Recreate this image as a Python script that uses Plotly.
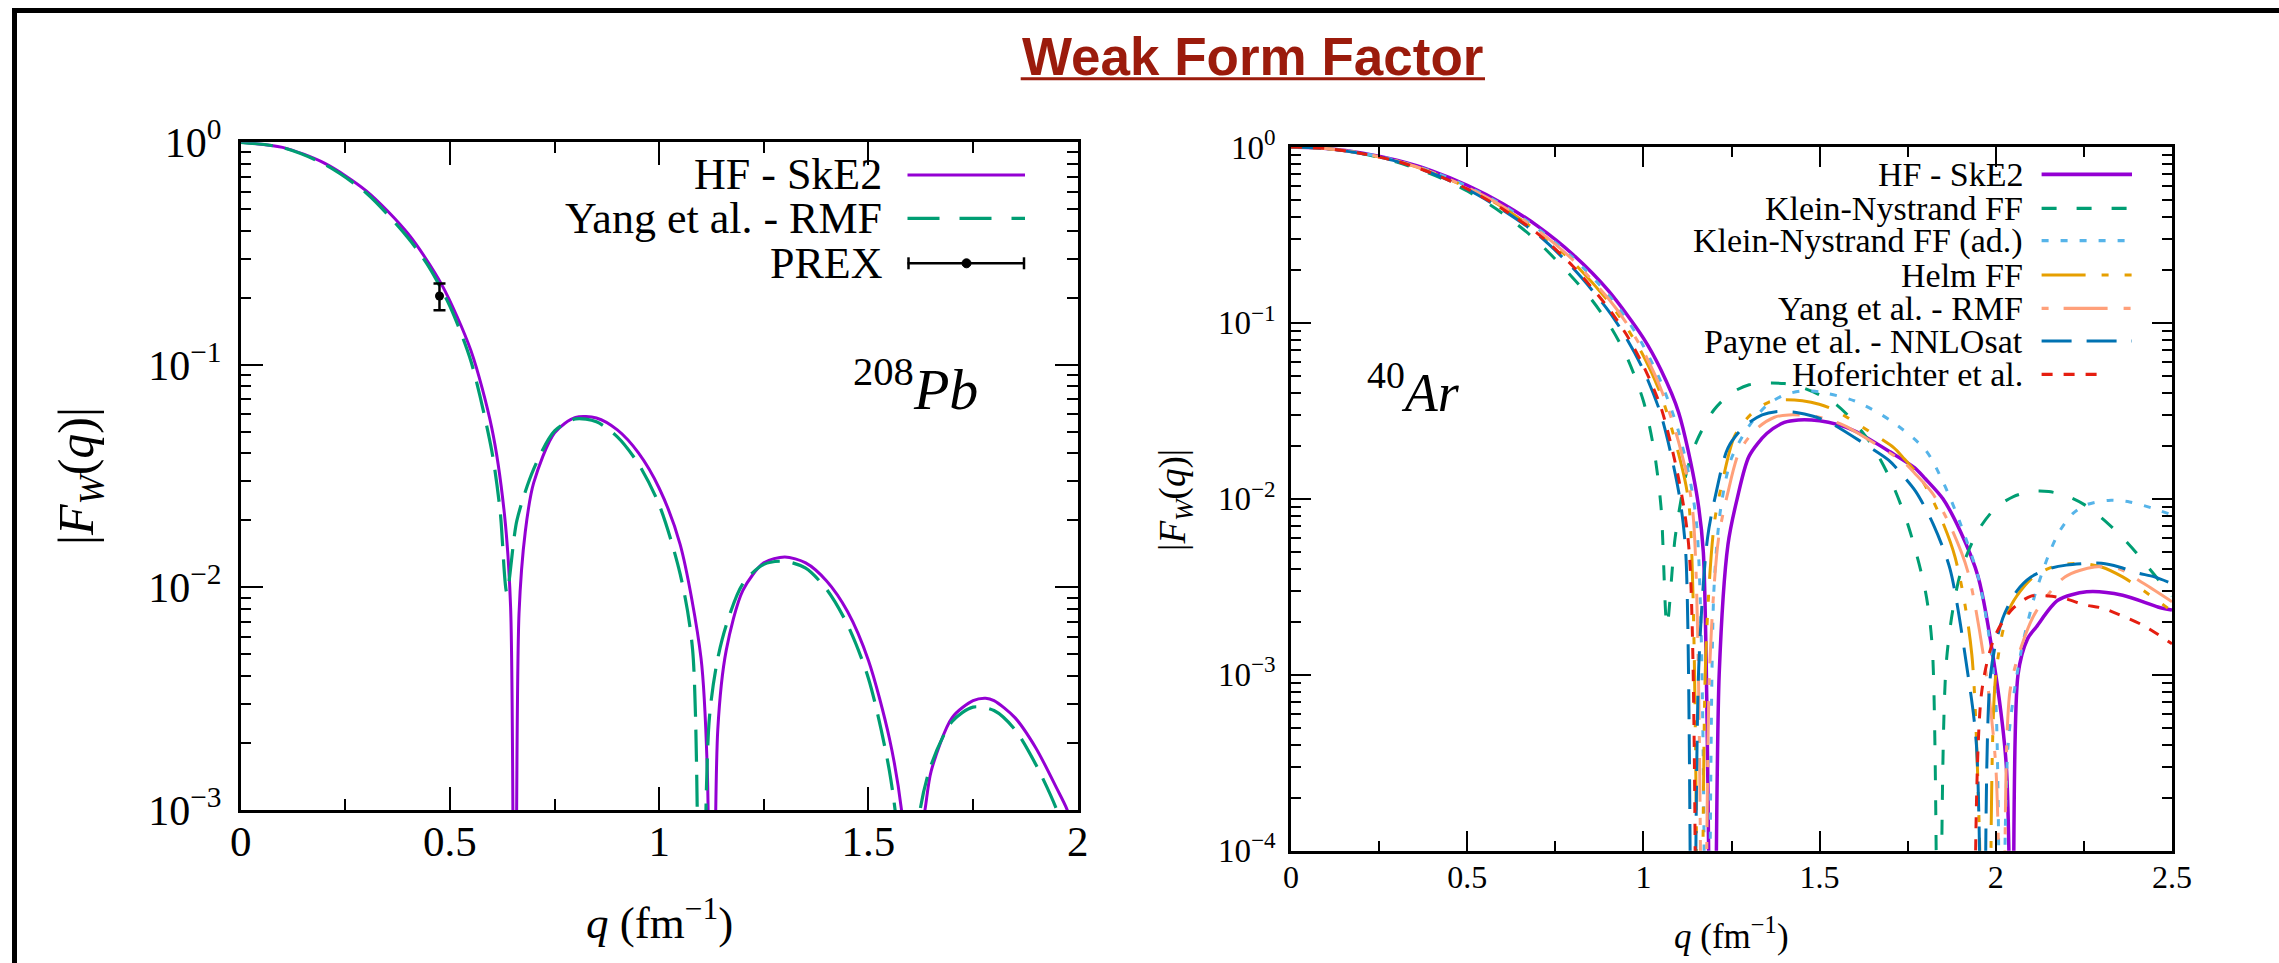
import plotly.graph_objects as go

W, H = 2279, 963
def PX(x): return x / W
def PY(y): return 1 - y / H

# ---------------- data: 208Pb (left panel) ----------------
pb_q_hf = [0, 0.1, 0.2, 0.3, 0.4, 0.48, 0.55, 0.6, 0.63, 0.645, 0.655, 0.665, 0.68, 0.7, 0.75, 0.8,
           0.85, 0.9, 0.95, 1.0, 1.05, 1.1, 1.115, 1.126, 1.14, 1.16, 1.2, 1.25, 1.3, 1.35, 1.4, 1.45,
           1.5, 1.55, 1.579, 1.595, 1.605, 1.62, 1.635, 1.65, 1.7, 1.75, 1.78, 1.8, 1.85, 1.9, 1.95,
           1.975, 2.0]
pb_f_hf = [1.0, 0.949, 0.806, 0.605, 0.388, 0.23, 0.116, 0.052, 0.0215, 0.0081, 1e-5, 0.0076, 0.0178,
           0.0295, 0.0495, 0.0581, 0.0577, 0.051, 0.0403, 0.0279, 0.0156, 0.0048, 0.0015, 1e-5, 0.0023,
           0.0052, 0.0097, 0.0129, 0.0137, 0.0129, 0.0107, 0.0078, 0.0047, 0.0021, 0.001, 0.0004, 1e-5,
           0.0007, 0.001, 0.0015, 0.0026, 0.0031, 0.00318, 0.0031, 0.0026, 0.0019, 0.00125, 0.001, 0.0007]

pb_q_rmf = [0, 0.1, 0.2, 0.3, 0.4, 0.45, 0.5, 0.55, 0.6, 0.62, 0.636, 0.66, 0.7, 0.75, 0.8, 0.85, 0.9,
            0.95, 1.0, 1.05, 1.08, 1.1, 1.12, 1.15, 1.2, 1.25, 1.3, 1.35, 1.4, 1.45, 1.5, 1.55, 1.575,
            1.59, 1.62, 1.65, 1.7, 1.75, 1.8, 1.85, 1.9, 1.95, 2.0]
pb_f_rmf = [1.0, 0.946, 0.797, 0.592, 0.372, 0.275, 0.183, 0.104, 0.041, 0.022, 0.0095, 0.02, 0.034,
            0.0505, 0.0572, 0.0555, 0.0475, 0.036, 0.0235, 0.0115, 0.0052, 1e-5, 0.0026, 0.0058, 0.0104,
            0.0127, 0.0131, 0.0122, 0.0098, 0.0068, 0.0039, 0.0015, 0.0006, 1e-5, 0.0009, 0.0016, 0.0025,
            0.0029, 0.0028, 0.0023, 0.0016, 0.001, 0.0005]

prex_q = [0.475]
prex_f = [0.204]
prex_err = [0.028]

# ---------------- data: 40Ar (right panel) ----------------
ar_q_hf = [0, 0.1, 0.2, 0.3, 0.4, 0.5, 0.6, 0.7, 0.8, 0.9, 1.0, 1.05, 1.1, 1.15, 1.17, 1.197, 1.215, 1.24,
           1.266, 1.3, 1.35, 1.4, 1.44, 1.5, 1.55, 1.6, 1.7, 1.77, 1.8, 1.85, 1.9, 1.95, 2.0, 2.03, 2.05,
           2.063, 2.09, 2.115, 2.176, 2.258, 2.36, 2.46, 2.5]
ar_f_hf = [1.0, 0.981, 0.926, 0.84, 0.732, 0.606, 0.478, 0.355, 0.245, 0.153, 0.082, 0.054, 0.031, 0.011,
           0.005, 1e-6, 0.001, 0.0055, 0.010, 0.0175, 0.0235, 0.0272, 0.0281, 0.0278, 0.0265, 0.0243,
           0.0185, 0.015, 0.013, 0.010, 0.0065, 0.0036, 0.001, 0.0003, 1e-6, 0.001, 0.0016, 0.00187,
           0.00265, 0.00296, 0.00283, 0.00243, 0.00233]

ar_q_kn = [0, 0.1, 0.2, 0.3, 0.4, 0.5, 0.6, 0.7, 0.8, 0.85, 0.9, 0.95, 1.0, 1.03, 1.05, 1.067, 1.09, 1.12,
           1.15, 1.2, 1.25, 1.3, 1.35, 1.4, 1.45, 1.5, 1.55, 1.6, 1.65, 1.7, 1.75, 1.8, 1.82, 1.84, 1.86,
           1.9, 1.95, 2.0, 2.05, 2.1, 2.15, 2.2, 2.25, 2.3, 2.35, 2.4, 2.45, 2.5]
ar_f_kn = [1.0, 0.979, 0.917, 0.82, 0.70, 0.562, 0.42, 0.29, 0.18, 0.138, 0.10, 0.066, 0.036, 0.019,
           0.009, 0.0019, 0.006, 0.0135, 0.021, 0.032, 0.040, 0.0445, 0.0455, 0.0452, 0.043, 0.039, 0.034,
           0.027, 0.020, 0.013, 0.0072, 0.003, 0.0014, 1e-6, 0.0012, 0.0038, 0.0066, 0.0089, 0.0103,
           0.011, 0.011, 0.0104, 0.0093, 0.0078, 0.0063, 0.0049, 0.0037, 0.0028]

ar_q_kn_ad = [0, 0.1, 0.2, 0.3, 0.4, 0.5, 0.6, 0.7, 0.8, 0.9, 0.95, 1.0, 1.05, 1.1, 1.15, 1.18, 1.2, 1.22,
              1.25, 1.3, 1.35, 1.4, 1.45, 1.5, 1.6, 1.7, 1.8, 1.85, 1.9, 1.95, 1.98, 2.0, 2.017, 2.035,
              2.07, 2.11, 2.15, 2.18, 2.22, 2.26, 2.32, 2.38, 2.44, 2.5]
ar_f_kn_ad = [1.0, 0.981, 0.924, 0.838, 0.727, 0.598, 0.468, 0.344, 0.235, 0.145, 0.107, 0.074, 0.046,
              0.024, 0.0075, 1e-6, 0.003, 0.009, 0.017, 0.026, 0.034, 0.039, 0.041, 0.0405, 0.036, 0.028,
              0.019, 0.0125, 0.0072, 0.0036, 0.0017, 0.0007, 1e-6, 0.0004, 0.0013, 0.0028, 0.0048,
              0.0065, 0.0083, 0.0093, 0.0098, 0.0096, 0.0089, 0.0081]

ar_q_helm = [0, 0.1, 0.2, 0.3, 0.4, 0.5, 0.6, 0.7, 0.8, 0.9, 0.95, 1.0, 1.05, 1.1, 1.13, 1.16, 1.177, 1.201,
             1.226, 1.259, 1.307, 1.355, 1.394, 1.451, 1.499, 1.547, 1.643, 1.711, 1.74, 1.788, 1.836,
             1.884, 1.932, 1.98, 2.0, 2.04, 2.1, 2.16, 2.24, 2.3, 2.36, 2.42, 2.5]
ar_f_helm = [1.0, 0.98, 0.92, 0.832, 0.717, 0.587, 0.455, 0.33, 0.222, 0.133, 0.096, 0.065, 0.039, 0.018,
             0.009, 1e-6, 0.0013, 0.0072, 0.013, 0.0228, 0.0305, 0.0354, 0.0365, 0.0361, 0.0345, 0.0316,
             0.024, 0.0195, 0.0169, 0.013, 0.0085, 0.0047, 0.0013, 1e-6, 0.001, 0.0024, 0.0035, 0.0041,
             0.0043, 0.0041, 0.0036, 0.003, 0.0023]

ar_q_rmf = [0, 0.1, 0.2, 0.3, 0.4, 0.5, 0.6, 0.7, 0.8, 0.9, 0.95, 1.0, 1.05, 1.1, 1.14, 1.17, 1.188, 1.213,
            1.239, 1.273, 1.322, 1.372, 1.412, 1.472, 1.522, 1.572, 1.671, 1.741, 1.771, 1.821, 1.871,
            1.92, 1.97, 2.0, 2.025, 2.04, 2.08, 2.115, 2.196, 2.28, 2.35, 2.42, 2.5]
ar_f_rmf = [1.0, 0.98, 0.921, 0.834, 0.72, 0.59, 0.461, 0.337, 0.228, 0.138, 0.101, 0.069, 0.042, 0.021,
            0.0085, 1e-6, 0.0011, 0.0059, 0.0107, 0.0187, 0.0251, 0.0291, 0.03, 0.0297, 0.0284, 0.026,
            0.0198, 0.016, 0.0139, 0.0107, 0.007, 0.0039, 0.0011, 0.0003, 1e-6, 0.0008, 0.0016, 0.0023,
            0.0036, 0.0041, 0.004, 0.0033, 0.0026]

ar_q_nnlo = [0, 0.1, 0.2, 0.3, 0.4, 0.5, 0.6, 0.7, 0.8, 0.9, 0.95, 1.0, 1.05, 1.1, 1.12, 1.14, 1.157, 1.182,
             1.207, 1.24, 1.288, 1.337, 1.376, 1.434, 1.482, 1.531, 1.628, 1.696, 1.725, 1.773, 1.822,
             1.87, 1.918, 1.945, 1.967, 1.985, 2.02, 2.06, 2.1, 2.15, 2.2, 2.26, 2.3, 2.35, 2.4, 2.45, 2.5]
ar_f_nnlo = [1.0, 0.98, 0.918, 0.828, 0.71, 0.575, 0.44, 0.318, 0.205, 0.118, 0.083, 0.054, 0.030, 0.011,
             0.005, 1e-6, 0.0011, 0.006, 0.011, 0.0195, 0.026, 0.030, 0.0313, 0.031, 0.0295, 0.027,
             0.0205, 0.0166, 0.0144, 0.011, 0.0072, 0.004, 0.0011, 0.0004, 1e-6, 0.001, 0.0021, 0.003,
             0.0036, 0.004, 0.0042, 0.0043, 0.0043, 0.0041, 0.0038, 0.0036, 0.0033]

ar_q_hof = [0, 0.1, 0.2, 0.3, 0.4, 0.5, 0.6, 0.7, 0.8, 0.9, 0.95, 1.0, 1.05, 1.1, 1.13, 1.15, None,
            1.94, 1.96, 2.0, 2.05, 2.1, 2.15, 2.2, 2.25, 2.3, 2.35, 2.42, 2.5]
ar_f_hof = [1.0, 0.98, 0.918, 0.83, 0.71, 0.578, 0.445, 0.322, 0.21, 0.122, 0.087, 0.057, 0.033, 0.013,
            0.005, 1e-6, None, 1e-6, 0.0008, 0.0017, 0.0024, 0.0028, 0.0028, 0.0027, 0.0025, 0.0024,
            0.0022, 0.0019, 0.0015]

# tick labels
pb_x_ticks = [0, 0.5, 1, 1.5, 2]
pb_x_labels = ["0", "0.5", "1", "1.5", "2"]
pb_y_ticks = [1e-3, 1e-2, 1e-1, 1]
pb_y_labels = ["10<sup>−3</sup>", "10<sup>−2</sup>", "10<sup>−1</sup>", "10<sup>0</sup>"]
ar_x_ticks = [0, 0.5, 1, 1.5, 2, 2.5]
ar_x_labels = ["0", "0.5", "1", "1.5", "2", "2.5"]
ar_y_ticks = [1e-4, 1e-3, 1e-2, 1e-1, 1]
ar_y_labels = ["10<sup>−4</sup>", "10<sup>−3</sup>", "10<sup>−2</sup>", "10<sup>−1</sup>", "10<sup>0</sup>"]

# ---------------- styles ----------------
PURPLE = "#9400D3"
GREEN = "#009E73"
LBLUE = "#56B4E9"
ORANGE = "#E69F00"
SALMON = "#FFA07A"
BLUE = "#0072B2"
RED = "#E51E10"
SERIF = "Liberation Serif"

fig = go.Figure()

def add(q, f, color, width, dash, xa, ya):
    fig.add_trace(go.Scatter(x=q, y=f, mode="lines", xaxis=xa, yaxis=ya, showlegend=False,
                             line=dict(color=color, width=width, dash=dash, shape="spline", smoothing=0.8),
                             connectgaps=False, hoverinfo="skip"))

add(pb_q_hf, pb_f_hf, PURPLE, 3, "solid", "x", "y")
add(pb_q_rmf, pb_f_rmf, GREEN, 3.2, "32px,13px", "x", "y")
fig.add_trace(go.Scatter(x=prex_q, y=prex_f, mode="markers", xaxis="x", yaxis="y", showlegend=False,
                         marker=dict(color="black", size=9),
                         error_y=dict(type="data", array=prex_err, color="black", thickness=2.5, width=6)))

ar_dash = {
    "hf": "solid", "kn": "15px,20px", "kn_ad": "7px,12px", "helm": "44px,16px,7px,16px,7px,16px",
    "rmf": "7px,15px,44px,16px", "nnlo": "30px,15px", "hof": "11px,11px"}
add(ar_q_hf, ar_f_hf, PURPLE, 3.5, ar_dash["hf"], "x2", "y2")
add(ar_q_kn, ar_f_kn, GREEN, 3, ar_dash["kn"], "x2", "y2")
add(ar_q_kn_ad, ar_f_kn_ad, LBLUE, 3, ar_dash["kn_ad"], "x2", "y2")
add(ar_q_helm, ar_f_helm, ORANGE, 3, ar_dash["helm"], "x2", "y2")
add(ar_q_rmf, ar_f_rmf, SALMON, 3, ar_dash["rmf"], "x2", "y2")
add(ar_q_nnlo, ar_f_nnlo, BLUE, 3, ar_dash["nnlo"], "x2", "y2")
add(ar_q_hof, ar_f_hof, RED, 3, ar_dash["hof"], "x2", "y2")

def minor_log(lo, hi):
    vals = []
    for d in range(lo, hi):
        for k in range(2, 10):
            vals.append(k * 10.0 ** d)
    return vals

axis_common = dict(showline=True, linecolor="black", linewidth=2.5, mirror="allticks", ticks="inside",
                   tickcolor="black", tickwidth=2, showgrid=False, zeroline=False, tickmode="array",
                   automargin=False)

fig.update_layout(
    template="none",
    width=W, height=H, margin=dict(l=0, r=0, t=0, b=0, pad=0, autoexpand=False),
    paper_bgcolor="white", plot_bgcolor="white",
    xaxis=dict(axis_common, domain=[PX(240.7), PX(1077.7)], range=[0, 2], anchor="y",
               tickvals=pb_x_ticks, ticktext=pb_x_labels, ticklen=23, ticklabelstandoff=-8,
               tickfont=dict(family=SERIF, size=43, color="black"),
               minor=dict(tickmode="array", tickvals=[0.25, 0.75, 1.25, 1.75], ticks="inside", ticklen=11,
                          tickwidth=2, tickcolor="black")),
    yaxis=dict(axis_common, type="log", domain=[PY(810), PY(142.3)], range=[-3, 0], anchor="x",
               tickvals=pb_y_ticks, ticktext=pb_y_labels, ticklen=23, ticklabelstandoff=8,
               tickfont=dict(family=SERIF, size=42, color="black"),
               minor=dict(tickmode="array", tickvals=minor_log(-3, 0), ticks="inside", ticklen=11,
                          tickwidth=2, tickcolor="black")),
    xaxis2=dict(axis_common, domain=[PX(1291), PX(2172)], range=[0, 2.5], anchor="y2",
                tickvals=ar_x_ticks, ticktext=ar_x_labels, ticklen=20, ticklabelstandoff=-4,
                tickfont=dict(family=SERIF, size=32, color="black"),
                minor=dict(tickmode="array", tickvals=[0.25, 0.75, 1.25, 1.75, 2.25], ticks="inside",
                           ticklen=10, tickwidth=2, tickcolor="black")),
    yaxis2=dict(axis_common, type="log", domain=[PY(850.7), PY(147)], range=[-4, 0], anchor="x2",
                tickvals=ar_y_ticks, ticktext=ar_y_labels, ticklen=20, ticklabelstandoff=6,
                tickfont=dict(family=SERIF, size=33, color="black"),
                minor=dict(tickmode="array", tickvals=minor_log(-4, 0), ticks="inside", ticklen=10,
                           tickwidth=2, tickcolor="black")),
)

ann = []
shapes = []

def text_at(text, x, y, size, family=SERIF, color="black", xanchor="center", angle=0):
    ann.append(dict(text=text, x=PX(x), y=PY(y), xref="paper", yref="paper", xanchor=xanchor,
                    yanchor="middle", showarrow=False, textangle=angle,
                    font=dict(family=family, size=size, color=color)))

# slide frame
shapes.append(dict(type="line", xref="paper", yref="paper", x0=PX(12), x1=PX(2279), y0=PY(10.5), y1=PY(10.5),
                   line=dict(color="black", width=5)))
shapes.append(dict(type="line", xref="paper", yref="paper", x0=PX(14.5), x1=PX(14.5), y0=PY(8), y1=PY(963),
                   line=dict(color="black", width=5)))

# title
text_at("<b>Weak Form Factor</b>", 1252.8, 56, 53, family="Liberation Sans", color="#9B1B0C")
shapes.append(dict(type="line", xref="paper", yref="paper", x0=PX(1020.7), x1=PX(1485), y0=PY(78.7),
                   y1=PY(78.7), line=dict(color="#9B1B0C", width=3)))

# axis titles
text_at("|<i>F<sub>W</sub></i>(<i>q</i>)|", 80, 476, 50, angle=-90)
text_at("<i>q</i> (fm<sup>−1</sup>)", 659, 919, 45)
text_at("|<i>F<sub>W</sub></i>(<i>q</i>)|", 1175, 500, 37, angle=-90)
text_at("<i>q</i> (fm<sup>−1</sup>)", 1731, 933, 35)

# nucleus labels
text_at("<sup>208</sup><i>Pb</i>", 915, 385, 58)
text_at("<sup>40</sup><i>Ar</i>", 1414, 388, 54)

# left legend
LX = 884
left_leg = [("HF - SkE2", PURPLE, "solid", 3, 175),
            ("Yang et al. - RMF", GREEN, "32px,20px", 3.2, 218.3)]
for name, col, dash, wdt, yy in left_leg:
    text_at(name, LX, yy, 44, xanchor="right")
    shapes.append(dict(type="line", xref="paper", yref="paper", x0=PX(907.5), x1=PX(1025), y0=PY(yy),
                       y1=PY(yy), line=dict(color=col, width=wdt, dash=dash)))
yy = 263.3
text_at("PREX", LX, yy, 44, xanchor="right")
shapes.append(dict(type="line", xref="paper", yref="paper", x0=PX(907.5), x1=PX(1025), y0=PY(yy), y1=PY(yy),
                   line=dict(color="black", width=2.5)))
for xx in (908.5, 1024):
    shapes.append(dict(type="line", xref="paper", yref="paper", x0=PX(xx), x1=PX(xx), y0=PY(yy - 6),
                       y1=PY(yy + 6), line=dict(color="black", width=2.5)))
shapes.append(dict(type="circle", xref="paper", yref="paper", x0=PX(962), x1=PX(971), y0=PY(yy - 4.5),
                   y1=PY(yy + 4.5), fillcolor="black", line=dict(color="black", width=1)))

# right legend
RX = 2025
right_leg = [("HF - SkE2", PURPLE, ar_dash["hf"], 3.8, 174.3, 2132),
             ("Klein-Nystrand FF", GREEN, ar_dash["kn"], 3.2, 208.3, 2132),
             ("Klein-Nystrand FF (ad.)", LBLUE, ar_dash["kn_ad"], 3.2, 240.7, 2132),
             ("Helm FF", ORANGE, ar_dash["helm"], 3.2, 275, 2132),
             ("Yang et al. - RMF", SALMON, ar_dash["rmf"], 3.2, 308.3, 2132),
             ("Payne et al. - NNLOsat", BLUE, ar_dash["nnlo"], 3.2, 341, 2132),
             ("Hoferichter et al.", RED, ar_dash["hof"], 3.2, 374.3, 2098)]
for name, col, dash, wdt, yy, xend in right_leg:
    text_at(name, RX, yy, 34, xanchor="right")
    shapes.append(dict(type="line", xref="paper", yref="paper", x0=PX(2041.6), x1=PX(xend), y0=PY(yy),
                       y1=PY(yy), line=dict(color=col, width=wdt, dash=dash)))

fig.update_layout(annotations=ann, shapes=shapes)
fig.write_html("out.html")
